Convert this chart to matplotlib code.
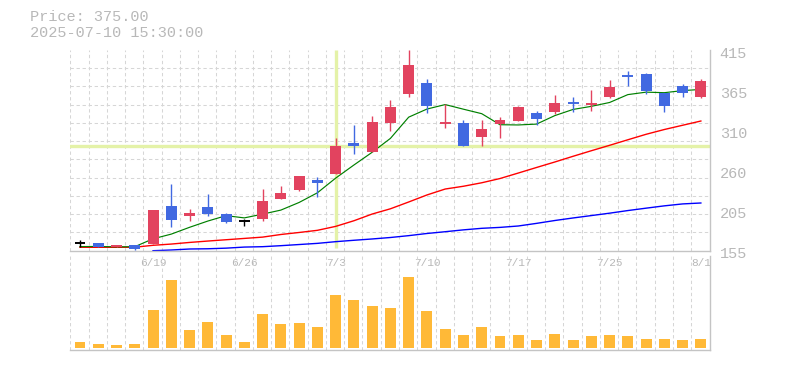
import numpy as np
import matplotlib
matplotlib.use("Agg")
import matplotlib.pyplot as plt
from matplotlib.ticker import FixedLocator
from matplotlib.transforms import ScaledTranslation

dates = ["6/13", "6/16", "6/17", "6/18", "6/19", "6/20", "6/23", "6/24", "6/25", "6/26",
         "6/27", "6/30", "7/1", "7/2", "7/3", "7/4", "7/7", "7/8", "7/9", "7/10",
         "7/11", "7/14", "7/15", "7/16", "7/17", "7/18", "7/22", "7/23", "7/24", "7/25",
         "7/28", "7/29", "7/30", "7/31", "8/1"]

opens = [164.6, 165.0, 159.4, 162.4, 164.2, 212.9, 200.0, 212.0, 202.5, 193.5,
         196.1, 221.9, 233.6, 246.6, 254.7, 294.5, 283.3, 320.4, 358.4, 372.2,
         319.7, 320.4, 302.7, 319.1, 323.4, 333.4, 334.3, 346.4, 345.3, 354.1,
         381.1, 383.9, 359.7, 368.4, 354.5]
highs = [168.5, 165.0, 162.4, 162.4, 207.7, 241.4, 209.4, 228.4, 204.2, 196.5,
         234.9, 239.2, 251.8, 250.1, 301.4, 317.8, 329.5, 350.2, 414.5, 377.4,
         344.7, 324.3, 323.9, 328.2, 342.8, 336.0, 356.7, 354.1, 363.2, 376.1,
         387.8, 385.6, 359.7, 371.0, 377.4]
lows = [159.4, 159.8, 159.4, 155.9, 164.2, 186.1, 193.9, 200.0, 191.3, 187.0,
        193.9, 221.9, 232.3, 225.0, 254.7, 280.7, 282.5, 310.1, 354.5, 333.4,
        314.3, 290.2, 291.0, 301.4, 323.4, 317.8, 332.1, 335.1, 336.4, 353.2,
        368.8, 358.0, 335.1, 354.5, 353.2]
closes = [164.6, 159.8, 162.4, 157.6, 207.7, 194.8, 204.2, 202.5, 192.6, 193.5,
          219.4, 230.1, 251.8, 243.1, 290.6, 291.0, 321.7, 341.2, 395.6, 342.8,
          320.2, 291.0, 312.7, 323.9, 341.2, 326.0, 346.3, 346.0, 345.7, 367.1,
          380.7, 362.3, 342.8, 358.9, 375.0]

ma_short = [160.3, 160.5, 160.0, 160.2, 170.4, 176.5, 185.3, 193.4, 200.4, 197.5,
            202.4, 207.6, 217.5, 230.0, 249.0, 266.0, 282.5, 300.5, 328.0, 338.5,
            344.3, 338.3, 332.5, 318.2, 317.9, 319.0, 330.0, 338.0, 342.0, 347.0,
            357.2, 360.4, 359.7, 362.4, 363.9]
ma_mid = [159.4, 159.4, 159.4, 159.5, 162.0, 163.6, 165.7, 167.5, 169.2, 170.9,
          172.6, 176.0, 178.6, 181.4, 186.5, 193.8, 202.5, 209.3, 218.1, 227.2,
          234.9, 238.5, 243.0, 248.5, 255.6, 262.8, 269.9, 277.3, 284.5, 291.5,
          298.7, 305.8, 312.0, 317.5, 323.0]
ma_long = [np.nan, np.nan, np.nan, np.nan, 155.0, 155.9, 157.2, 157.5, 158.3, 159.7,
           160.2, 161.5, 163.0, 164.5, 166.7, 168.5, 170.2, 172.1, 174.5, 177.3,
           179.6, 182.0, 184.0, 185.2, 187.0, 190.4, 194.1, 197.4, 200.5, 203.6,
           207.0, 210.1, 213.1, 215.6, 216.8]

volumes = [60, 40, 30, 40, 380, 680, 180, 260, 130, 60,
           340, 240, 250, 210, 530, 480, 420, 400, 710, 370,
           190, 130, 210, 120, 130, 80, 140, 80, 120, 130,
           120, 90, 90, 80, 90]

price_ticks = [155, 207, 259, 311, 363, 415]
price_tick_labels = ["155", "205", "260", "310", "365", "415"]
label_dates = ["6/19", "6/26", "7/3", "7/10", "7/17", "7/25", "8/1"]
cross_index = 14  # 7/3

UP = "#e2435f"
DOWN = "#4169e1"
GRID = "#d6d6d6"
TEXT = "#b8b8b8"
SPINE = "#c4c4c4"
CROSS = "#e4f2a8"
FONT = "Liberation Mono"

o = np.array(opens)
h = np.array(highs)
l = np.array(lows)
c = np.array(closes)
x = np.arange(len(dates))

W, H = 785, 370
fig = plt.figure(figsize=(W / 100, H / 100), dpi=100)
ax = fig.add_axes([70.3 / W, 1 - 250.7 / H, 639.7 / W, 200.7 / H])
axv = fig.add_axes([70.3 / W, 1 - 350 / H, 639.7 / W, 94 / H])
axv.patch.set_alpha(0)

xlim = (-0.53, 34.5)
vgrid = [k - 0.53 for k in range(len(dates))]
dash = (0, (3.2, 2.6))

for a in (ax, axv):
    a.set_xlim(*xlim)
    a.xaxis.set_minor_locator(FixedLocator(vgrid))
    a.grid(which="minor", axis="x", color=GRID, lw=0.75, linestyle=dash, zorder=0)
    for s in ("left", "top"):
        a.spines[s].set_visible(False)
    for s in ("right", "bottom"):
        a.spines[s].set_color(SPINE)
        a.spines[s].set_linewidth(1.0)
    a.tick_params(which="both", length=0)
    a.set_axisbelow(True)

# price panel
ax.set_ylim(155, 415)
ax.yaxis.set_minor_locator(FixedLocator([155 + k * 260 / 11 for k in range(1, 12)]))
ax.grid(which="minor", axis="y", color=GRID, lw=0.75, linestyle=dash, zorder=0)
ax.yaxis.tick_right()
ax.set_yticks(price_ticks)
ax.set_yticklabels(price_tick_labels, family=FONT, fontsize=11, color=TEXT)
ax.tick_params(axis="y", pad=7)
for lab in ax.get_yticklabels():
    lab.set_transform(lab.get_transform() + ScaledTranslation(0, -2 / 100, fig.dpi_scale_trans))

ax.set_xticks([dates.index(d) for d in label_dates])
ax.set_xticklabels(label_dates, family=FONT, fontsize=8, color=TEXT)
ax.tick_params(axis="x", pad=5)

# crosshair
ax.axhline(closes[cross_index], color=CROSS, lw=2.4, zorder=1)
ax.plot([cross_index, cross_index], [155 + 2.5 * 1.3, 415], color=CROSS, lw=2.4, zorder=1,
        solid_capstyle="butt")

# moving averages
ax.plot(x, ma_long, color="#0000ff", lw=1.0, zorder=2)
ax.plot(x, ma_mid, color="#ff0000", lw=1.0, zorder=2)
ax.plot(x, ma_short, color="#008000", lw=0.85, zorder=2)

# candles
for i in x:
    if c[i] > o[i]:
        col = UP
    elif c[i] < o[i]:
        col = DOWN
    else:
        col = "black"
    ax.vlines(i, l[i], h[i], color=col, lw=1.0, zorder=3)
    if abs(c[i] - o[i]) < 1.0:
        ax.hlines((o[i] + c[i]) / 2, i - 0.3, i + 0.3, color=col, lw=1.4, zorder=3)
    else:
        ax.bar(i, abs(c[i] - o[i]), bottom=min(o[i], c[i]), width=0.6, color=col,
               linewidth=0, zorder=3)

# volume panel
axv.bar(x, volumes, width=0.6, color="#ffb937", linewidth=0, zorder=2)
axv.set_ylim(-17, 923)
axv.set_xticks([])
axv.set_yticks([])

fig.text(30 / W, 1 - 17 / H, "Price: 375.00", family=FONT, fontsize=11, color=TEXT, va="center")
fig.text(30 / W, 1 - 33 / H, "2025-07-10 15:30:00", family=FONT, fontsize=11, color=TEXT,
         va="center")

fig.savefig("out.png", dpi=100)
